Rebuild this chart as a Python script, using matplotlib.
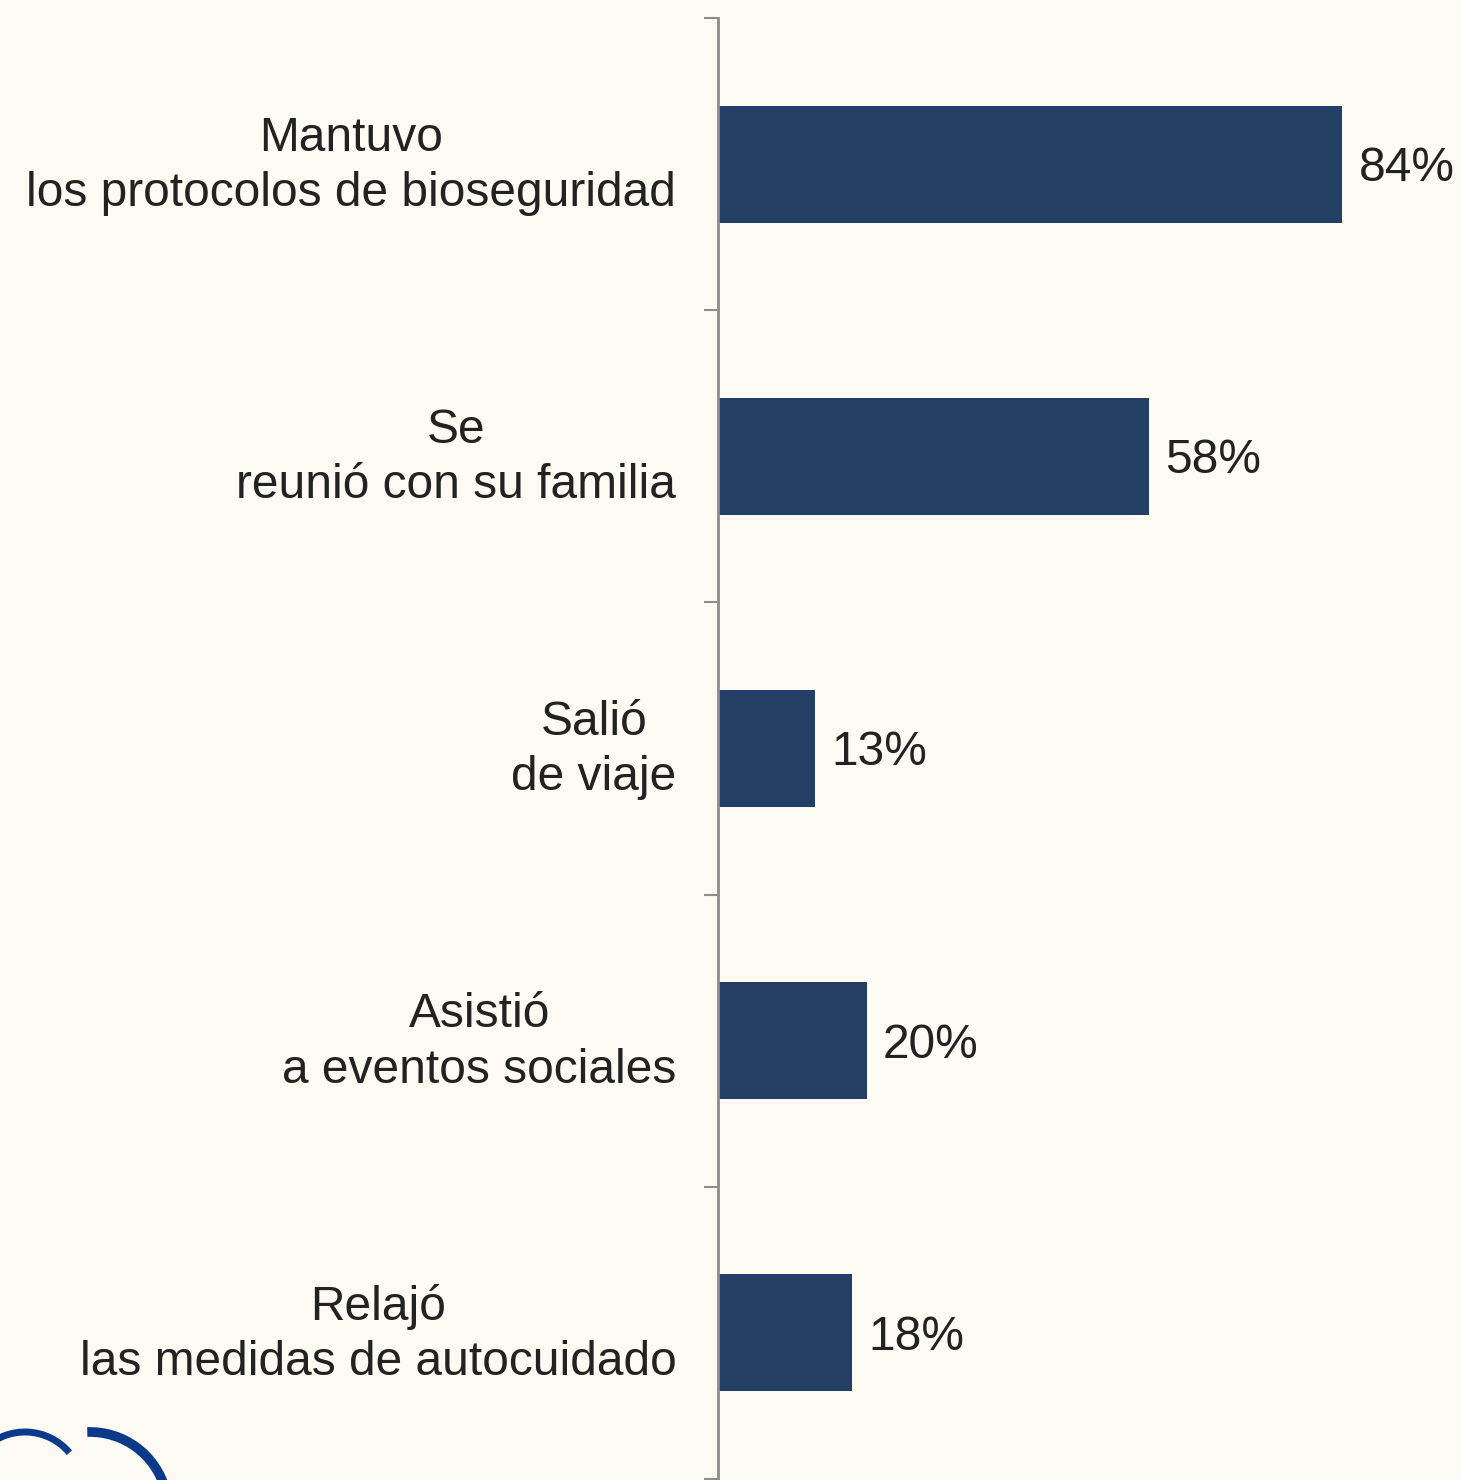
import matplotlib.pyplot as plt
from matplotlib.patches import Arc

# Datos
categorias = [
    "Mantuvo\nlos protocolos de bioseguridad",
    "Se\nreunió con su familia",
    "Salió\nde viaje",
    "Asistió\na eventos sociales",
    "Relajó\nlas medidas de autocuidado",
]
valores = [84, 58, 13, 20, 18]

fondo = "#FDF9F3"
azul = "#243F66"

plt.rcParams['font.family'] = ['Liberation Sans', 'DejaVu Sans']

fig = plt.figure(figsize=(14.61, 14.80), dpi=100, facecolor=fondo)
ax = fig.add_axes([718 / 1461, 1 / 1480, 1 - 718 / 1461, 1 - 19 / 1480])
ax.set_facecolor(fondo)

pos = range(len(categorias))
ax.barh(pos, valores, height=0.4, color=azul)

for y, v in zip(pos, valores):
    ax.text(v + 2.2, y + 0.015, f"{v}%", va="center", ha="left", fontsize=34.5, color="#222222")

# Etiquetas de categoría
for y, c in zip(pos, categorias):
    ax.annotate(c, xy=(0, y), xytext=(-30, -1.2), textcoords="offset points",
                ha="right", va="center", multialignment="center",
                fontsize=34.5, color="#222222", linespacing=1.3)

ax.set_xlim(0, 100)
ax.set_ylim(len(categorias) - 0.5, -0.5)

ax.set_yticks([])
ax.set_yticks([i - 0.5 for i in range(len(categorias) + 1)], minor=True)
ax.tick_params(axis="y", which="minor", length=10, width=1.5, color="#8C8C8C")

ax.set_xticks([])
for s in ["top", "right", "bottom"]:
    ax.spines[s].set_visible(False)
ax.spines["left"].set_color("#8C8C8C")
ax.spines["left"].set_linewidth(2)

# Logo (parcial) abajo a la izquierda
lax = fig.add_axes([0, 0, 1, 1], facecolor="none")
lax.set_xlim(0, 1461)
lax.set_ylim(0, 1480)
lax.axis("off")
lax.add_patch(Arc((25, -10), 116, 116, theta1=40, theta2=135, color="#0B3A8A", lw=5))
lax.add_patch(Arc((90, -30), 156, 156, theta1=15, theta2=92, color="#0B3A8A", lw=7))

fig.savefig("out.png", dpi=100, facecolor=fondo)
